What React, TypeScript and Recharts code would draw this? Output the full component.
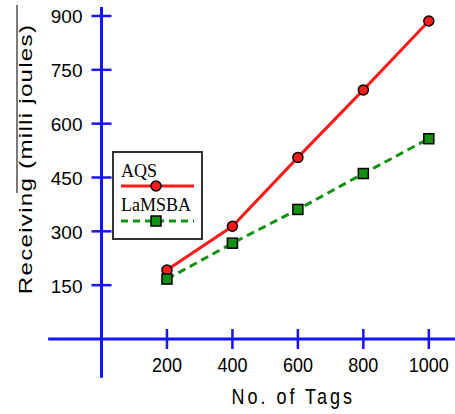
import React from "react";
import { LineChart, Line, XAxis, YAxis, ReferenceLine, Legend } from "recharts";

// values
const tags = [200, 400, 600, 800, 1000];
const aqs = [192, 314, 506, 694, 886];
const lamsba = [167, 267, 361, 461, 558];

const xTicks = [200, 400, 600, 800, 1000];
const yTicks = [150, 300, 450, 600, 750, 900];

const data = tags.map((t, i) => ({ tags: t, aqs: aqs[i], lamsba: lamsba[i] }));

const BLUE = "#1414ff";
const RED = "#ff1a1a";
const GREEN = "#139113";
const SANS = "'Liberation Sans', Arial, sans-serif";
const SERIF = "'Liberation Serif', 'Times New Roman', serif";

// axes cross at the origin and run a bit past it
const X_MIN = -163;
const X_MAX = 1080;
const Y_MIN = -108;
const Y_MAX = 925;

const XTick = (props: any) => {
  const { x, y, payload } = props;
  return (
    <g>
      <line x1={x} x2={x} y1={y - 10} y2={y + 10} stroke={BLUE} strokeWidth={2.5} />
      <text
        transform={`translate(${x},${y + 26}) scale(1,1.15)`}
        textAnchor="middle"
        dominantBaseline="central"
        fontSize={18}
        fontFamily={SANS}
        fill="#000"
      >
        {payload.value}
      </text>
    </g>
  );
};

const YTick = (props: any) => {
  const { x, y, payload } = props;
  return (
    <g>
      <line x1={x - 10} x2={x + 10} y1={y} y2={y} stroke={BLUE} strokeWidth={2.5} />
      <text
        x={x - 19}
        y={y + 1}
        textAnchor="end"
        dominantBaseline="central"
        fontSize={19}
        fontFamily={SANS}
        fill="#000"
      >
        {payload.value}
      </text>
    </g>
  );
};

const YTitle = (props: any) => {
  const { viewBox } = props;
  const cx = viewBox.x - 16;
  const cy = viewBox.y + viewBox.height / 2 - 14;
  return (
    <g>
      <line x1={17} x2={17} y1={viewBox.y - 2} y2={cy + 34} stroke="#333" strokeWidth={1.3} />
      <text
        transform={`translate(${cx},${cy}) rotate(-90) scale(1.27,1)`}
        textAnchor="middle"
        dominantBaseline="central"
        fontSize={19}
        letterSpacing={1}
        fontFamily={SANS}
        fill="#000"
      >
        Receiving (milli joules)
      </text>
    </g>
  );
};

const XTitle = (props: any) => {
  const { viewBox } = props;
  const cx = viewBox.x + viewBox.width / 2 + 15;
  const cy = viewBox.y + 57;
  return (
    <text
      transform={`translate(${cx},${cy}) scale(1,1.2)`}
      textAnchor="middle"
      dominantBaseline="central"
      fontSize={18}
      letterSpacing={3}
      fontFamily={SANS}
      fill="#000"
    >
      No. of Tags
    </text>
  );
};

const Square = (props: any) => {
  const { cx, cy, index } = props;
  return (
    <rect key={`sq-${index}`} x={cx - 5} y={cy - 5} width={10} height={10} fill={GREEN} stroke="#000" strokeWidth={1.5} />
  );
};

const LegendBox = (props: any) => {
  const { payload } = props;
  return (
    <svg width={91} height={89} style={{ display: "block" }}>
      <rect x={1} y={1} width={89} height={87} fill="#fff" stroke="#333" strokeWidth={2} />
      {(payload || []).map((entry: any, i: number) => {
        const ty = 26 + i * 34;
        const ly = 35 + i * 35;
        const isDashed = entry.dataKey === "lamsba";
        return (
          <g key={`lg-${i}`}>
            <text x={9} y={ty} fontSize={18} fontFamily={SERIF} fill="#000">
              {entry.value}
            </text>
            <line
              x1={9}
              x2={82}
              y1={ly}
              y2={ly}
              stroke={entry.color}
              strokeWidth={3}
              strokeDasharray={isDashed ? "7 5" : undefined}
            />
            {isDashed ? (
              <rect x={39} y={ly - 5} width={10} height={10} fill={GREEN} stroke="#000" strokeWidth={1.5} />
            ) : (
              <circle cx={44} cy={ly} r={5} fill={RED} stroke="#000" strokeWidth={1.5} />
            )}
          </g>
        );
      })}
    </svg>
  );
};

export default function App() {
  return (
    <div style={{ position: "absolute", left: 0, top: 0, background: "#fff" }}>
      <LineChart width={455} height={414} data={data} margin={{ top: 7, right: 0, bottom: 15, left: 41.5 }}>
        <XAxis
          dataKey="tags"
          type="number"
          domain={[0, X_MAX]}
          allowDataOverflow
          ticks={xTicks}
          axisLine={false}
          tickLine={false}
          tickSize={0}
          tickMargin={0}
          height={60}
          tick={<XTick />}
          label={<XTitle />}
        />
        <YAxis
          type="number"
          domain={[0, Y_MAX]}
          allowDataOverflow
          ticks={yTicks}
          axisLine={false}
          tickLine={false}
          tickSize={0}
          tickMargin={0}
          width={60}
          tick={<YTick />}
          label={<YTitle />}
        />
        <ReferenceLine
          segment={[{ x: 0, y: Y_MIN }, { x: 0, y: Y_MAX }]}
          ifOverflow="visible"
          stroke={BLUE}
          strokeWidth={3}
        />
        <ReferenceLine
          segment={[{ x: X_MIN, y: 0 }, { x: X_MAX, y: 0 }]}
          ifOverflow="visible"
          stroke={BLUE}
          strokeWidth={3}
        />
        <Legend
          layout="vertical"
          align="center"
          verticalAlign="middle"
          content={<LegendBox />}
          wrapperStyle={{ left: 112, top: 151, width: 91 }}
        />
        <Line
          dataKey="aqs"
          name="AQS"
          stroke={RED}
          strokeWidth={3}
          dot={{ r: 5, fill: RED, stroke: "#000", strokeWidth: 1.5 }}
          isAnimationActive={false}
        />
        <Line
          dataKey="lamsba"
          name="LaMSBA"
          stroke={GREEN}
          strokeWidth={3}
          strokeDasharray="8 5"
          dot={<Square />}
          isAnimationActive={false}
        />
      </LineChart>
    </div>
  );
}
